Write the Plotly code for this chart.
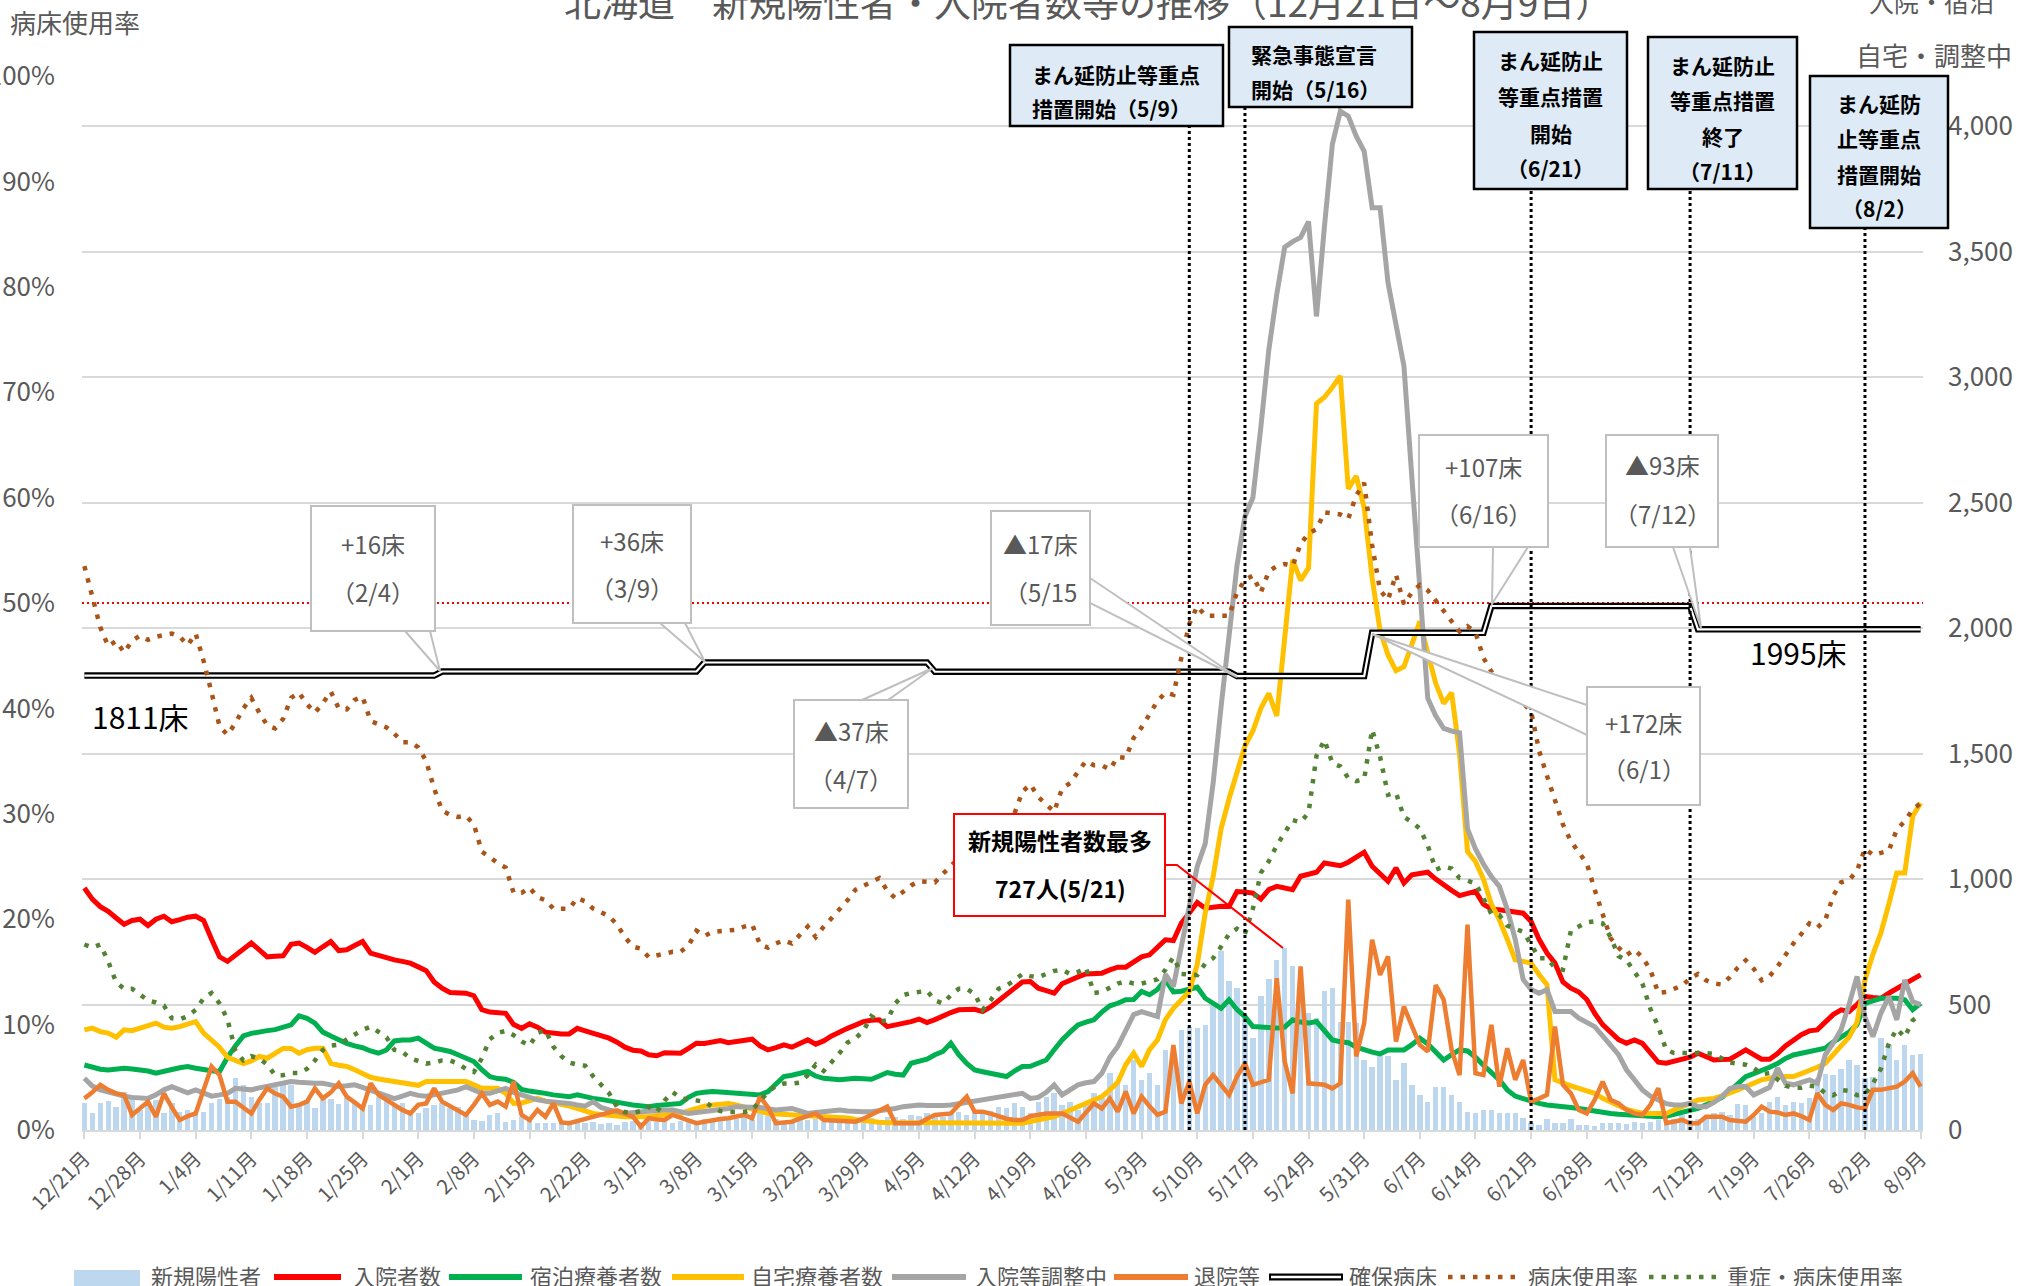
import plotly.graph_objects as go
import pandas as pd

# ---------------- data ----------------
dates = [d.strftime("%Y-%m-%d") for d in pd.date_range("2020-12-21", "2021-08-09", freq="D")]
tick_labels = ["12/21月", "12/28月", "1/4月", "1/11月", "1/18月", "1/25月", "2/1月", "2/8月",
               "2/15月", "2/22月", "3/1月", "3/8月", "3/15月", "3/22月", "3/29月", "4/5月",
               "4/12月", "4/19月", "4/26月", "5/3月", "5/10月", "5/17月", "5/24月", "5/31月",
               "6/7月", "6/14月", "6/21月", "6/28月", "7/5月", "7/12月", "7/19月", "7/26月",
               "8/2月", "8/9月"]
pct_ticks = [0, 10, 20, 30, 40, 50, 60, 70, 80, 90, 100]
count_ticks = [0, 500, 1000, 1500, 2000, 2500, 3000, 3500, 4000]

new_cases = [
    106, 69, 109, 117, 90, 153, 133,
    80, 96, 120, 66, 106, 73, 80,
    66, 73, 109, 122, 133, 206, 180,
    133, 109, 106, 186, 180, 180, 100,
    120, 86, 126, 122, 104, 126, 117,
    100, 100, 133, 117, 100, 106, 80,
    66, 86, 100, 106, 86, 93, 66,
    40, 37, 60, 66, 33, 40, 53,
    37, 29, 27, 27, 30, 25, 33,
    27, 30, 22, 28, 20, 33, 35,
    30, 37, 33, 40, 27, 35, 40,
    36, 45, 40, 47, 53, 45, 50,
    40, 66, 55, 45, 36, 40, 47,
    38, 42, 33, 45, 50, 40, 44,
    53, 47, 40, 50, 53, 45, 60,
    55, 66, 60, 53, 66, 73, 60,
    80, 70, 75, 93, 86, 106, 93,
    66, 113, 133, 146, 100, 113, 80,
    110, 146, 126, 226, 186, 180, 279,
    200, 226, 180, 319, 306, 399, 412,
    406, 419, 499, 712, 592, 565, 450,
    366, 532, 601, 678, 727, 654, 638,
    465, 446, 552, 565, 432, 432, 426,
    279, 253, 293, 293, 200, 266, 180,
    140, 113, 173, 173, 140, 113, 73,
    66, 80, 80, 66, 66, 66, 47,
    27, 20, 43, 27, 27, 43, 20,
    20, 16, 29, 29, 27, 24, 33,
    27, 33, 40, 40, 43, 60, 40,
    43, 53, 66, 73, 60, 104, 100,
    50, 66, 113, 133, 100, 113, 109,
    126, 206, 223, 219, 242, 279, 259,
    206, 213, 366, 339, 279, 339, 299,
    303]

hospitalized = [
    964, 920, 890, 871, 845, 820, 835,
    840, 815, 840, 852, 830, 838, 848,
    852, 835, 760, 690, 672, 695, 720,
    745, 718, 690, 692, 694, 740, 745,
    728, 708, 730, 751, 715, 718, 735,
    751, 705, 695, 688, 678, 672, 665,
    650, 635, 590, 565, 548, 545, 545,
    535, 480, 470, 468, 465, 420, 405,
    423, 410, 390, 385, 383, 383, 405,
    395, 386, 376, 366, 350, 330, 318,
    315, 300, 296, 308, 308, 306, 325,
    346, 345, 350, 356, 348, 352, 358,
    362, 335, 319, 328, 339, 330, 345,
    359, 342, 355, 375, 392, 405, 418,
    432, 437, 439, 412, 418, 424, 432,
    442, 428, 440, 455, 468, 479, 480,
    481, 472, 490, 515, 540, 565, 590,
    592, 565, 555, 545, 583, 598, 610,
    622, 624, 625, 638, 649, 649, 670,
    690, 698, 725, 758, 755, 825, 865,
    907, 884, 888, 892, 891, 950, 948,
    944, 920, 958, 971, 965, 958, 1011,
    1020, 1027, 1064, 1058, 1053, 1067, 1090,
    1107, 1051, 1020, 991, 1044, 984, 1017,
    1022, 1027, 1000, 975, 955, 934, 945,
    951, 900, 880, 878, 872, 866, 864,
    831, 760, 705, 665, 590, 565, 550,
    520, 465, 420, 390, 360, 346, 359,
    345, 310, 270, 266, 275, 284, 290,
    306, 290, 279, 281, 282, 300, 319,
    300, 282, 282, 305, 335, 358, 380,
    395, 399, 430, 460, 479, 472, 500,
    532, 528, 525, 545, 565, 585, 600,
    618]

hotel = [
    259, 250, 242, 239, 242, 246, 243,
    240, 235, 226, 236, 241, 248, 253,
    246, 239, 236, 233, 290, 335, 375,
    385, 392, 396, 400, 410, 419, 455,
    445, 426, 390, 375, 359, 345, 335,
    328, 315, 306, 319, 355, 359, 359,
    366, 345, 326, 320, 313, 300, 285,
    273, 240, 213, 205, 202, 190, 162,
    155, 152, 146, 140, 135, 133, 140,
    132, 126, 122, 118, 113, 105, 100,
    96, 93, 98, 102, 104, 106, 130,
    146, 150, 153, 151, 149, 148, 146,
    143, 140, 153, 180, 213, 218, 223,
    233, 215, 206, 203, 200, 203, 206,
    204, 202, 215, 229, 222, 219, 266,
    275, 282, 300, 313, 346, 300, 265,
    239, 232, 226, 218, 213, 235, 253,
    254, 266, 279, 320, 359, 390, 419,
    430, 439, 470, 495, 505, 519, 520,
    552, 539, 560, 598, 550, 553, 559,
    569, 525, 505, 485, 519, 480, 452,
    412, 410, 408, 406, 410, 439, 430,
    426, 432, 395, 359, 352, 348, 330,
    319, 310, 303, 319, 319, 319, 340,
    366, 343, 310, 279, 300, 319, 315,
    290, 258, 230, 200, 160, 135, 125,
    113, 106, 100, 98, 96, 90, 86,
    80, 73, 70, 66, 63, 60, 57,
    54, 53, 53, 55, 63, 73, 80,
    86, 100, 113, 130, 155, 185, 213,
    225, 235, 250, 265, 285, 299, 306,
    313, 318, 326, 350, 372, 390, 420,
    505, 515, 525, 525, 525, 519, 479,
    505]

home = [
    399, 406, 392, 386, 370, 399, 396,
    405, 419, 426, 410, 406, 412, 420,
    432, 386, 360, 330, 290, 275, 265,
    275, 293, 286, 305, 325, 325, 306,
    320, 326, 326, 266, 258, 253, 240,
    226, 210, 203, 198, 193, 188, 185,
    178, 193, 193, 193, 193, 193, 193,
    180, 166, 166, 166, 146, 106, 108,
    115, 126, 115, 108, 106, 95, 86,
    75, 66, 62, 58, 55, 53, 53,
    53, 53, 58, 62, 66, 66, 76,
    86, 95, 100, 104, 106, 100, 93,
    85, 75, 66, 64, 62, 60, 60,
    58, 56, 55, 53, 53, 48, 42,
    37, 33, 31, 29, 28, 27, 27,
    28, 29, 29, 29, 28, 27, 27,
    27, 28, 29, 29, 29, 28, 27,
    34, 40, 47, 53, 66, 80, 93,
    106, 120, 133, 160, 190, 260, 306,
    253, 320, 359, 440, 485, 519, 552,
    660, 864, 1010, 1200, 1320, 1420, 1530,
    1590, 1680, 1740, 1650, 1960, 2272, 2190,
    2240, 2895, 2920, 2960, 3005, 2555, 2606,
    2480, 2200, 1990, 1893, 1830, 1846, 1935,
    2027, 1900, 1780, 1700, 1742, 1500, 1110,
    1070, 1000, 900, 838, 760, 678, 672,
    665, 620, 579, 200, 186, 176, 166,
    156, 146, 126, 110, 95, 82, 74,
    67, 66, 66, 66, 80, 93, 106,
    120, 123, 126, 136, 146, 160, 173,
    186, 200, 206, 213, 213, 213, 225,
    235, 250, 265, 300, 333, 370, 430,
    598, 700, 785, 900, 1024, 1024, 1250,
    1303]

adjusting = [
    206, 175, 160, 150, 143, 135, 130,
    128, 126, 140, 160, 173, 160, 148,
    160, 150, 135, 140, 146, 166, 163,
    160, 168, 175, 180, 187, 193, 190,
    186, 186, 186, 180, 173, 176, 180,
    170, 160, 150, 135, 125, 135, 146,
    138, 135, 140, 146, 150, 160, 173,
    160, 146, 146, 156, 166, 150, 140,
    128, 120, 115, 113, 110, 106, 100,
    95, 113, 90, 80, 73, 66, 70,
    73, 76, 80, 80, 80, 75, 66,
    70, 73, 76, 80, 86, 93, 93,
    93, 90, 85, 80, 83, 86, 76,
    66, 70, 73, 76, 80, 76, 73,
    73, 73, 76, 80, 86, 93, 96,
    100, 98, 96, 98, 100, 105, 110,
    113, 120, 126, 130, 136, 138, 146,
    126, 130, 150, 180, 140, 160, 180,
    188, 193, 226, 290, 333, 400, 460,
    472, 460, 452, 620, 572, 731, 880,
    1050, 1140, 1383, 1688, 1990, 2250, 2445,
    2520, 2800, 3108, 3330, 3518, 3540, 3557,
    3620, 3242, 3600, 3928, 4060, 4040, 3960,
    3900, 3675, 3675, 3376, 3200, 3044, 2600,
    2150, 1720, 1650, 1600, 1590, 1583, 1200,
    1120, 1060, 1010, 971, 880, 760, 600,
    560, 545, 559, 472, 472, 472, 446,
    430, 412, 375, 340, 300, 240, 200,
    160, 135, 118, 105, 100, 100, 106,
    93, 93, 110, 133, 165, 173, 173,
    140, 155, 170, 246, 186, 180, 190,
    200, 186, 300, 346, 400, 500, 612,
    450, 372, 465, 532, 439, 598, 512,
    499]

discharged = [
    126, 150, 180, 160, 146, 140, 60,
    85, 113, 53, 146, 90, 40, 55,
    66, 160, 253, 219, 113, 113, 90,
    66, 120, 166, 145, 133, 93, 100,
    113, 166, 126, 150, 186, 133, 110,
    86, 186, 140, 120, 100, 80, 66,
    100, 106, 166, 113, 95, 75, 60,
    100, 146, 100, 113, 93, 193, 60,
    40, 80, 53, 106, 30, 27, 35,
    45, 53, 60, 66, 78, 65, 53,
    13, 47, 42, 40, 60, 50, 40,
    27, 33, 40, 44, 47, 53, 60,
    47, 133, 90, 27, 30, 33, 45,
    55, 66, 40, 38, 36, 34, 33,
    45, 60, 75, 93, 27, 27, 27,
    27, 45, 60, 63, 66, 100, 133,
    73, 73, 65, 53, 45, 40, 40,
    55, 60, 66, 66, 66, 50, 33,
    70, 106, 86, 126, 73, 153, 66,
    133, 95, 60, 73, 339, 106, 193,
    66, 180, 219, 180, 140, 213, 266,
    180, 190, 200, 605, 273, 146, 652,
    186, 183, 180, 166, 186, 918, 293,
    426, 758, 618, 692, 352, 492, 415,
    339, 313, 578, 519, 319, 219, 818,
    226, 219, 419, 173, 326, 200, 279,
    113, 125, 140, 412, 180, 146, 80,
    66, 120, 193, 120, 106, 80, 66,
    60, 100, 166, 27, 35, 40, 27,
    27, 53, 53, 53, 40, 36, 33,
    60, 93, 73, 70, 60, 66, 55,
    40, 146, 100, 80, 106, 100, 90,
    86, 160, 160, 165, 173, 193, 226,
    173]

bed_change_dates = ["2020-12-21", "2021-02-04", "2021-03-09", "2021-04-07",
                    "2021-05-15", "2021-06-01", "2021-06-16", "2021-07-12"]
bed_counts = [1811, 1827, 1863, 1826, 1809, 1981, 2088, 1995]

bed_rate = [
    53.5, 50.5, 47.7, 45.9, 46.4, 45.3, 46.4,
    46.9, 46.5, 46.8, 46.9, 47.1, 46.8, 46.0,
    47.1, 44.5, 41.5, 38.3, 37.5, 38.6, 40.0,
    41.0, 39.6, 38.4, 38.1, 39.0, 41.0, 41.5,
    40.4, 39.6, 40.5, 41.6, 40.0, 39.9, 40.8,
    41.1, 38.8, 38.5, 38.2, 37.6, 36.8, 36.8,
    36.3, 35.0, 32.4, 30.3, 29.9, 29.7, 29.8,
    29.0, 26.4, 25.9, 25.3, 24.9, 22.5, 22.5,
    23.0, 22.1, 21.8, 21.0, 21.0, 21.0, 22.0,
    21.7, 21.0, 20.6, 20.3, 19.5, 18.3, 17.4,
    17.2, 16.4, 16.6, 16.8, 16.9, 16.9, 17.5,
    18.9, 18.4, 18.8, 18.9, 18.9, 19.0, 19.3,
    19.5, 17.6, 17.3, 17.7, 18.0, 17.7, 18.5,
    19.3, 18.3, 19.3, 20.1, 20.9, 21.8, 22.8,
    23.2, 23.6, 23.9, 22.7, 22.0, 22.6, 23.2,
    23.6, 23.5, 23.5, 24.3, 25.0, 25.8, 26.3,
    26.5, 26.2, 27.0, 28.0, 28.8, 30.0, 32.1,
    32.8, 31.6, 30.9, 30.2, 32.4, 32.9, 34.0,
    35.0, 34.6, 34.6, 34.2, 35.4, 35.3, 37.2,
    38.2, 39.4, 40.7, 41.5, 41.3, 44.8, 48.0,
    49.7, 48.8, 48.8, 48.8, 48.8, 51.0, 52.2,
    52.6, 51.0, 53.0, 53.5, 53.7, 53.5, 55.6,
    56.6, 57.0, 58.6, 58.5, 58.4, 58.0, 60.2,
    61.4, 55.5, 51.2, 50.3, 52.7, 49.9, 51.0,
    51.7, 51.2, 50.2, 49.2, 48.2, 47.3, 47.8,
    47.2, 44.8, 43.5, 42.7, 42.0, 41.3, 40.5,
    39.7, 36.0, 33.6, 31.4, 29.0, 27.4, 26.3,
    25.3, 22.8, 20.4, 18.2, 17.3, 16.6, 17.1,
    16.4, 15.2, 13.0, 13.1, 13.4, 13.7, 14.4,
    14.8, 14.2, 13.9, 13.8, 14.5, 15.4, 16.1,
    15.3, 14.2, 14.6, 15.5, 16.6, 17.7, 18.6,
    19.6, 19.2, 19.9, 22.2, 23.5, 23.7, 24.6,
    26.7, 26.1, 26.3, 26.5, 28.5, 29.3, 30.4,
    31.0]

severe_rate = [
    17.6, 17.3, 17.6, 16.0, 14.0, 13.4, 13.4,
    12.9, 12.3, 12.1, 11.8, 10.6, 10.5, 10.8,
    11.4, 12.5, 13.0, 12.0, 10.5, 7.5, 6.6,
    7.0, 6.8, 6.2, 5.2, 5.2, 5.4, 5.4,
    5.8, 6.6, 7.6, 8.0, 8.1, 8.6, 9.1,
    9.5, 9.8, 9.3, 8.8, 7.6, 7.4, 6.8,
    6.6, 6.3, 6.4, 6.6, 6.6, 6.3, 5.8,
    5.5, 6.8, 8.6, 9.2, 9.4, 9.0, 8.4,
    8.0, 9.2, 9.5, 7.9, 7.0, 6.4, 6.2,
    6.1, 5.1, 4.3, 3.5, 2.2, 1.7, 1.6,
    1.8, 2.2, 1.7, 2.8, 3.6, 3.0, 2.9,
    2.9, 2.7, 2.2, 1.8, 1.7, 1.7, 1.7,
    1.9, 2.8, 3.6, 4.2, 4.4, 4.4, 4.5,
    5.2, 6.2, 5.6, 6.4, 7.3, 8.3, 8.7,
    9.4, 10.8, 10.3, 10.4, 12.0, 12.8, 13.0,
    13.1, 13.2, 12.3, 12.0, 12.8, 13.4, 13.4,
    12.9, 11.4, 12.3, 13.4, 13.7, 14.2, 14.8,
    14.6, 14.5, 14.8, 15.1, 15.2, 14.8, 15.0,
    15.4, 13.0, 13.1, 13.5, 13.9, 14.1, 13.9,
    13.9, 14.1, 14.3, 15.2, 16.4, 14.8, 14.7,
    14.7, 15.8, 16.3, 17.4, 18.6, 19.1, 18.6,
    21.0, 24.4, 25.5, 27.0, 28.2, 29.4, 29.2,
    30.1, 35.5, 37.0, 34.8, 34.5, 33.4, 33.1,
    33.3, 38.0, 35.4, 31.8, 32.0, 29.7, 29.2,
    28.6, 27.0, 24.7, 25.0, 24.8, 23.9, 23.6,
    23.4, 22.0, 20.5, 20.4, 19.4, 19.1, 18.8,
    17.6, 16.3, 16.3, 15.4, 15.2, 18.9, 19.3,
    19.7, 19.8, 19.6, 18.3, 16.5, 16.1, 15.0,
    13.9, 11.5, 9.8, 7.6, 7.3, 7.3, 7.3,
    7.4, 7.3, 7.2, 6.8, 6.4, 6.3, 6.2,
    5.9, 5.3, 5.4, 4.8, 4.2, 4.0, 4.0,
    4.2, 4.1, 3.5, 3.3, 3.8, 3.7, 3.3,
    3.4, 4.4, 5.8, 8.2, 9.6, 8.8, 10.4,
    11.0]

event_dates = ["2021-05-09", "2021-05-16", "2021-06-21", "2021-07-11", "2021-08-02"]

# step lookup of secured beds for each day
secured_beds = []
for d in dates:
    val = bed_counts[0]
    for cd, cv in zip(bed_change_dates, bed_counts):
        if d >= cd:
            val = cv
    secured_beds.append(val)

# ---------------- figure ----------------
FONT = "Noto Sans CJK JP"
GRAY_TXT = "#595959"
PL, PR, PT, PB = 82, 1923, 76, 1130


def X(px):
    return (px - PL) / (PR - PL)


def Y(py):
    return (PB - py) / (PB - PT)


def txt(x, y, text, size, color=GRAY_TXT, xanchor="center", bold=False):
    return dict(x=X(x), y=Y(y), xref="paper", yref="paper", xanchor=xanchor, yanchor="middle",
                showarrow=False, text=("<b>" + text + "</b>") if bold else text,
                font=dict(family=FONT, size=size, color=color))


fig = go.Figure()
fig.add_trace(go.Bar(x=dates, y=new_cases, marker=dict(color="#BDD7EE", line=dict(width=0)),
                     width=0.68 * 86400000, name="新規陽性者", yaxis="y"))
for name, vals, color, w in [("入院者数", hospitalized, "#FF0000", 5),
                             ("宿泊療養者数", hotel, "#00B050", 5),
                             ("自宅療養者数", home, "#FFC000", 5),
                             ("入院等調整中", adjusting, "#A5A5A5", 5),
                             ("退院等", discharged, "#ED7D31", 4.5)]:
    fig.add_trace(go.Scatter(x=dates, y=vals, mode="lines", name=name,
                             line=dict(color=color, width=w), yaxis="y"))
fig.add_trace(go.Scatter(x=dates, y=secured_beds, mode="lines", name="確保病床",
                         line=dict(color="black", width=6.5), yaxis="y"))
fig.add_trace(go.Scatter(x=dates, y=secured_beds, mode="lines", showlegend=False,
                         line=dict(color="white", width=2.2), yaxis="y"))
fig.add_trace(go.Scatter(x=dates, y=bed_rate, mode="lines", name="病床使用率",
                         line=dict(color="#A9551A", width=4.5, dash="4.5px,8px"), yaxis="y2"))
fig.add_trace(go.Scatter(x=dates, y=severe_rate, mode="lines", name="重症・病床使用率",
                         line=dict(color="#548235", width=4.5, dash="4.5px,8px"), yaxis="y2"))

shapes = []
annotations = []

# 50% reference line
shapes.append(dict(type="line", xref="paper", yref="y2", x0=0, x1=1, y0=50, y1=50,
                   line=dict(color="#FF0000", width=2, dash="2px,3px"), layer="below"))

# event boxes: (x0, y0, x1, y1, lines, line_y, align)
events = [
    (1010, 45, 1223, 126, ["まん延防止等重点", "措置開始（5/9）"], [74, 108], "left"),
    (1229, 27, 1412, 107, ["緊急事態宣言", "開始（5/16）"], [54, 89], "left"),
    (1474, 32, 1627, 189, ["まん延防止", "等重点措置", "開始", "（6/21）"], [60, 96, 133, 168], "center"),
    (1648, 37, 1797, 189, ["まん延防止", "等重点措置", "終了", "（7/11）"], [65, 100, 136, 171], "center"),
    (1810, 76, 1948, 228, ["まん延防", "止等重点", "措置開始", "（8/2）"], [103, 138, 174, 208], "center"),
]
for ed, (x0, y0, x1, y1, lines, ly, al) in zip(event_dates, events):
    shapes.append(dict(type="line", xref="x", yref="paper", x0=ed, x1=ed, y0=0, y1=Y(y1),
                       line=dict(color="black", width=3, dash="3px,3px"), layer="above"))
    shapes.append(dict(type="rect", xref="paper", yref="paper", x0=X(x0), x1=X(x1), y0=Y(y0), y1=Y(y1),
                       fillcolor="#DEEBF7", line=dict(color="black", width=2.5), layer="above"))
    for t, yy in zip(lines, ly):
        if al == "left":
            annotations.append(txt(x0 + 20, yy, t, 21, "black", "left", True))
        else:
            annotations.append(txt((x0 + x1) / 2, yy, t, 21, "black", "center", True))

# bed-change callouts: box, wedge (base1, base2, tip), texts
callouts = [
    ((311, 506, 435, 631), ((405, 631), (430, 631), (440, 671)), ["+16床", "（2/4）"], (543, 591)),
    ((573, 505, 691, 623), ((660, 623), (685, 623), (705, 662)), ["+36床", "（3/9）"], (540, 587)),
    ((794, 700, 908, 808), ((862, 700), (888, 700), (933, 668)), ["▲37床", "（4/7）"], (730, 778)),
    ((991, 511, 1090, 625), ((1090, 578), (1090, 603), (1237, 677)), ["▲17床", "（5/15"], (543, 591)),
    ((1587, 687, 1700, 805), ((1587, 705), (1587, 735), (1372, 634)), ["+172床", "（6/1）"], (722, 768)),
    ((1419, 435, 1548, 547), ((1493, 547), (1528, 547), (1492, 604)), ["+107床", "（6/16）"], (466, 513)),
    ((1606, 435, 1718, 547), ((1673, 547), (1690, 547), (1701, 628)), ["▲93床", "（7/12）"], (465, 513)),
]
for (x0, y0, x1, y1), (b1, b2, tip), texts, tys in callouts:
    path = "M {},{} L {},{} L {},{} Z".format(X(b1[0]), Y(b1[1]), X(tip[0]), Y(tip[1]), X(b2[0]), Y(b2[1]))
    shapes.append(dict(type="path", xref="paper", yref="paper", path=path, fillcolor="white",
                       line=dict(color="#BFBFBF", width=2), layer="above"))
    shapes.append(dict(type="rect", xref="paper", yref="paper", x0=X(x0), x1=X(x1), y0=Y(y0), y1=Y(y1),
                       fillcolor="white", line=dict(color="#BFBFBF", width=2), layer="above"))
    for t, yy in zip(texts, tys):
        annotations.append(txt((x0 + x1) / 2, yy, t, 24))

# max new cases box
shapes.append(dict(type="path", xref="paper", yref="paper",
                   path="M {},{} L {},{} L {},{}".format(X(1165), Y(865), X(1177), Y(865), X(1283), Y(948)),
                   line=dict(color="#FF0000", width=2), layer="above"))
shapes.append(dict(type="rect", xref="paper", yref="paper", x0=X(954), x1=X(1165), y0=Y(814), y1=Y(916),
                   fillcolor="white", line=dict(color="#FF0000", width=2), layer="above"))
annotations.append(txt(1060, 840, "新規陽性者数最多", 23, "black", "center", True))
annotations.append(txt(1060, 888, "727人(5/21)", 23, "black", "center", True))

# bed labels
annotations.append(txt(140, 716, "1811床", 30, "black"))
annotations.append(txt(1798, 652, "1995床", 30, "black"))

# titles / axis captions
annotations.append(txt(1088, 1, "北海道　新規陽性者・入院者数等の推移（12月21日～8月9日）", 37))
annotations.append(txt(8, 22, "病床使用率", 26, GRAY_TXT, "left"))
annotations.append(txt(1932, 1, "入院・宿泊", 25))
annotations.append(txt(1934, 54, "自宅・調整中", 26))

# manual legend
LY = 1277
shapes.append(dict(type="rect", xref="paper", yref="paper", x0=X(74), x1=X(140), y0=Y(1270), y1=Y(1292),
                   fillcolor="#BDD7EE", line=dict(width=0)))
leg_lines = [(274, 341, "#FF0000"), (449, 522, "#00B050"), (672, 744, "#FFC000"),
             (892, 966, "#A5A5A5"), (1114, 1188, "#ED7D31")]
for a, b, c in leg_lines:
    shapes.append(dict(type="line", xref="paper", yref="paper", x0=X(a), x1=X(b), y0=Y(LY), y1=Y(LY),
                       line=dict(color=c, width=6)))
shapes.append(dict(type="line", xref="paper", yref="paper", x0=X(1269), x1=X(1343), y0=Y(LY), y1=Y(LY),
                   line=dict(color="black", width=7)))
shapes.append(dict(type="line", xref="paper", yref="paper", x0=X(1271), x1=X(1341), y0=Y(LY), y1=Y(LY),
                   line=dict(color="white", width=2.5)))
shapes.append(dict(type="line", xref="paper", yref="paper", x0=X(1448), x1=X(1521), y0=Y(LY), y1=Y(LY),
                   line=dict(color="#A9551A", width=4.5, dash="4.5px,8px")))
shapes.append(dict(type="line", xref="paper", yref="paper", x0=X(1649), x1=X(1722), y0=Y(LY), y1=Y(LY),
                   line=dict(color="#548235", width=4.5, dash="4.5px,8px")))
for tx, t in [(149, "新規陽性者"), (351, "入院者数"), (528, "宿泊療養者数"), (749, "自宅療養者数"),
              (973, "入院等調整中"), (1192, "退院等"), (1347, "確保病床"), (1526, "病床使用率"),
              (1725, "重症・病床使用率")]:
    annotations.append(txt(tx, 1275, t, 22, GRAY_TXT, "left"))

fig.update_layout(
    width=2018, height=1286,
    margin=dict(l=PL, r=2018 - PR, t=PT, b=1286 - PB, pad=0, autoexpand=False),
    paper_bgcolor="white", plot_bgcolor="white",
    showlegend=False, bargap=0,
    font=dict(family=FONT, color=GRAY_TXT),
    xaxis=dict(type="date", range=["2020-12-20 16:48", "2021-08-09 07:12"], automargin=False,
               tickvals=dates[::7], ticktext=tick_labels, tickangle=-45,
               ticks="outside", ticklen=7, tickwidth=2, tickcolor="#D9D9D9",
               showline=True, linecolor="#D9D9D9", linewidth=2, showgrid=False, zeroline=False,
               tickfont=dict(family=FONT, size=20, color=GRAY_TXT)),
    yaxis=dict(side="right", range=[0, 4200], tickvals=count_ticks, automargin=False,
               ticktext=["{:,}".format(v) for v in count_ticks],
               showgrid=True, gridcolor="#D9D9D9", gridwidth=2, zeroline=False, showline=False,
               tickfont=dict(family=FONT, size=26, color=GRAY_TXT), ticklabelstandoff=24),
    yaxis2=dict(overlaying="y", side="left", range=[0, 100], tickvals=pct_ticks, automargin=False,
                ticktext=["{}%".format(v) for v in pct_ticks], showgrid=False, zeroline=False,
                showline=False, tickfont=dict(family=FONT, size=26, color=GRAY_TXT), ticklabelstandoff=26),
    shapes=shapes,
    annotations=annotations,
)

fig.write_html("out.html", config={"displayModeBar": False},
               post_script="document.body.style.margin='0';document.body.style.overflow='hidden';")
